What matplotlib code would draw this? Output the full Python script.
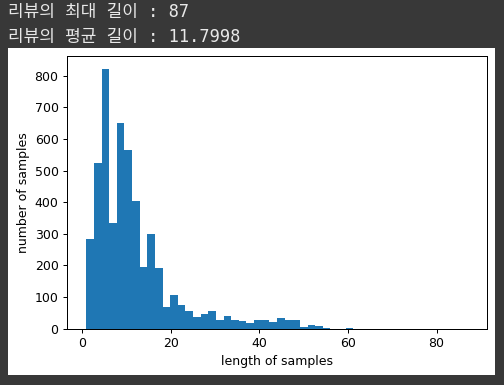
import numpy as np
import matplotlib
matplotlib.use('Agg')
import matplotlib.pyplot as plt
from matplotlib.patches import Rectangle

# printed summary above the chart
max_len = 87
mean_len = 11.7998

# histogram of review lengths, 50 bins between 1 and max_len
bin_lo = 1
bin_hi = 87
n_bins = 50
counts = [283, 524, 821, 334, 650, 565, 405, 195, 299, 191,
          69, 108, 76, 56, 36, 45, 57, 29, 40, 29,
          24, 17, 29, 29, 21, 33, 27, 26, 4, 13,
          9, 3, 0, 0, 3, 0, 0, 0, 0, 0,
          0, 0, 0, 0, 0, 0, 0, 0, 0, 0]

edges = np.linspace(bin_lo, bin_hi, n_bins + 1)
centers = (edges[:-1] + edges[1:]) / 2

W, H, dpi = 505, 385, 90
fig = plt.figure(figsize=(W / dpi, H / dpi), dpi=dpi, facecolor='#383838')

# white output cell behind the plot
fig.patches.append(Rectangle((8 / W, 10 / H), (495 - 8) / W, (337 - 10) / H,
                             transform=fig.transFigure, facecolor='white',
                             edgecolor='none', zorder=-5))

txt_font = ['DejaVu Sans Mono', 'Noto Sans CJK KR']
fig.text(8 / W, 1 - 12 / H, '리뷰의 최대 길이 : %d' % max_len, family=txt_font,
         fontsize=13.6, color='#e8e8e8', va='center', ha='left')
fig.text(8 / W, 1 - 37 / H, '리뷰의 평균 길이 : %.4f' % mean_len, family=txt_font,
         fontsize=13.6, color='#e8e8e8', va='center', ha='left')

ax = fig.add_axes([67.3 / W, 1 - 328.7 / H, (486.7 - 67.3) / W, (328.7 - 56) / H])
ax.hist(centers, bins=edges, weights=counts)
ax.set_xlabel('length of samples')
ax.set_ylabel('number of samples')

fig.savefig('out.png', dpi=dpi, facecolor=fig.get_facecolor())
